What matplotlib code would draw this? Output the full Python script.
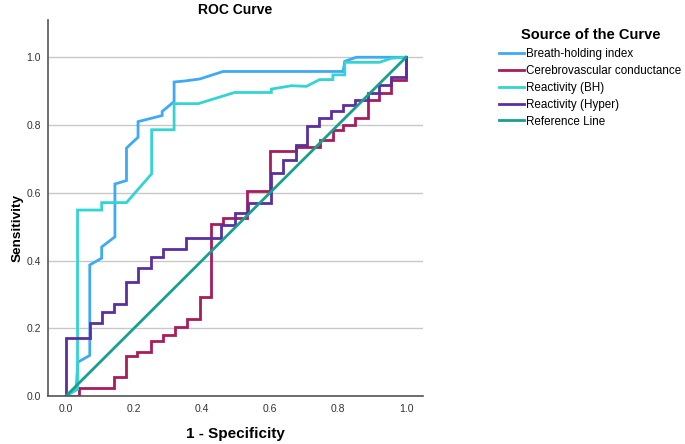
import matplotlib
matplotlib.use('Agg')
import matplotlib.pyplot as plt

plt.rcParams['font.family'] = ['Liberation Sans', 'DejaVu Sans']

# ROC curves (x = 1 - specificity, y = sensitivity)
bhi_x = [0.0, 0.03, 0.035, 0.07, 0.07, 0.105, 0.105, 0.144, 0.144, 0.178, 0.178,
         0.212, 0.212, 0.283, 0.283, 0.318, 0.318, 0.35, 0.394, 0.462, 0.815, 0.82, 0.854, 1.0]
bhi_y = [0.0, 0.02, 0.10, 0.12, 0.387, 0.407, 0.44, 0.47, 0.626, 0.636, 0.732,
         0.764, 0.81, 0.828, 0.84, 0.869, 0.927, 0.93, 0.936, 0.958, 0.958, 0.988, 1.0, 1.0]

cvc_x = [0.0, 0.038, 0.038, 0.142, 0.142, 0.176, 0.176, 0.21, 0.21, 0.25, 0.25, 0.286, 0.286,
         0.32, 0.32, 0.356, 0.356, 0.394, 0.394, 0.428, 0.428, 0.462, 0.462, 0.531, 0.531,
         0.601, 0.601, 0.677, 0.677, 0.746, 0.746, 0.785, 0.785, 0.815, 0.815, 0.849, 0.849,
         0.888, 0.888, 0.922, 0.922, 0.957, 0.957, 1.0, 1.0]
cvc_y = [0.0, 0.0, 0.023, 0.023, 0.055, 0.055, 0.118, 0.118, 0.131, 0.131, 0.163, 0.163, 0.18,
         0.18, 0.205, 0.205, 0.227, 0.227, 0.293, 0.293, 0.507, 0.507, 0.525, 0.525, 0.604,
         0.604, 0.722, 0.722, 0.736, 0.736, 0.756, 0.756, 0.786, 0.786, 0.80, 0.80, 0.82,
         0.82, 0.874, 0.874, 0.894, 0.894, 0.934, 0.934, 1.0]

rbh_x = [0.0, 0.034, 0.034, 0.105, 0.105, 0.178, 0.252, 0.252, 0.318, 0.318, 0.389, 0.496,
         0.604, 0.604, 0.663, 0.707, 0.746, 0.785, 0.785, 0.82, 0.82, 0.922, 0.957, 1.0]
rbh_y = [0.0, 0.02, 0.549, 0.549, 0.571, 0.571, 0.656, 0.786, 0.786, 0.863, 0.863, 0.896,
         0.896, 0.906, 0.916, 0.914, 0.934, 0.934, 0.948, 0.948, 0.985, 0.985, 0.997, 1.0]

rhy_x = [0.0, 0.0, 0.07, 0.07, 0.105, 0.105, 0.142, 0.142, 0.176, 0.176, 0.213, 0.213, 0.25,
         0.25, 0.286, 0.286, 0.354, 0.354, 0.457, 0.457, 0.496, 0.496, 0.535, 0.535, 0.604,
         0.604, 0.638, 0.638, 0.677, 0.677, 0.709, 0.709, 0.744, 0.744, 0.78, 0.78, 0.815,
         0.815, 0.849, 0.849, 0.888, 0.888, 0.922, 0.922, 0.957, 0.957, 1.0, 1.0]
rhy_y = [0.0, 0.17, 0.17, 0.217, 0.217, 0.247, 0.247, 0.272, 0.272, 0.336, 0.336, 0.377, 0.377,
         0.41, 0.41, 0.433, 0.433, 0.466, 0.466, 0.505, 0.505, 0.54, 0.54, 0.571, 0.571,
         0.658, 0.658, 0.697, 0.697, 0.741, 0.741, 0.797, 0.797, 0.82, 0.82, 0.842, 0.842,
         0.86, 0.86, 0.874, 0.874, 0.894, 0.894, 0.919, 0.919, 0.943, 0.943, 1.0]

ref_x = [0.0, 1.0]
ref_y = [0.0, 1.0]

labels = ['Breath-holding index', 'Cerebrovascular conductance', 'Reactivity (BH)',
          'Reactivity (Hyper)', 'Reference Line']
colors = ['#3FAAF4', '#A81C5C', '#33D4D2', '#5A2FA0', '#17A08F']
ticks = [0.0, 0.2, 0.4, 0.6, 0.8, 1.0]

fig = plt.figure(figsize=(6.85, 4.44), dpi=100)
ax = fig.add_axes([0.070, 0.108, 0.5475, 0.847])

curves = [(bhi_x, bhi_y), (cvc_x, cvc_y), (rbh_x, rbh_y), (rhy_x, rhy_y), (ref_x, ref_y)]
handles = []
for (xs, ys), lab, col in zip(curves, labels, colors):
    h, = ax.plot(xs, ys, color=col, lw=2.0, label=lab, solid_joinstyle='miter')
    handles.append(h)

ax.set_xlim(-0.053, 1.05)
ax.set_ylim(0.0, 1.11)
ax.set_xticks(ticks)
ax.set_yticks(ticks)
ax.set_xticklabels(['%.1f' % t for t in ticks])
ax.set_yticklabels(['%.1f' % t for t in ticks])
ax.tick_params(length=0, labelsize=7.5, colors='#333333', pad=6)
ax.tick_params(axis='y', pad=5)
ax.yaxis.grid(True, color='#c8c8c8', lw=1.0)
ax.set_axisbelow(True)
for s in ['top', 'right']:
    ax.spines[s].set_visible(False)
for s in ['left', 'bottom']:
    ax.spines[s].set_color('#555555')
    ax.spines[s].set_linewidth(1.2)

ax.set_title('ROC Curve', fontsize=10, fontweight='bold', pad=4)
ax.set_xlabel('1 - Specificity', fontsize=11, fontweight='bold', labelpad=9)
ax.set_ylabel('Sensitivity', fontsize=9.7, fontweight='bold')
ax.yaxis.set_label_coords(-0.064, 0.447)

# legend: title placed separately so it sits centred above the entries
fig.text(0.863, 0.921, 'Source of the Curve', fontsize=10.5, fontweight='bold',
         ha='center', va='center')
leg = fig.legend(handles=handles, loc='upper left', bbox_to_anchor=(0.728, 0.892),
                 frameon=False, fontsize=8.4,
                 handlelength=2.2, handletextpad=0.1, labelspacing=0.42,
                 borderaxespad=0.0, borderpad=0.0)

fig.savefig('out.png', dpi=100)
